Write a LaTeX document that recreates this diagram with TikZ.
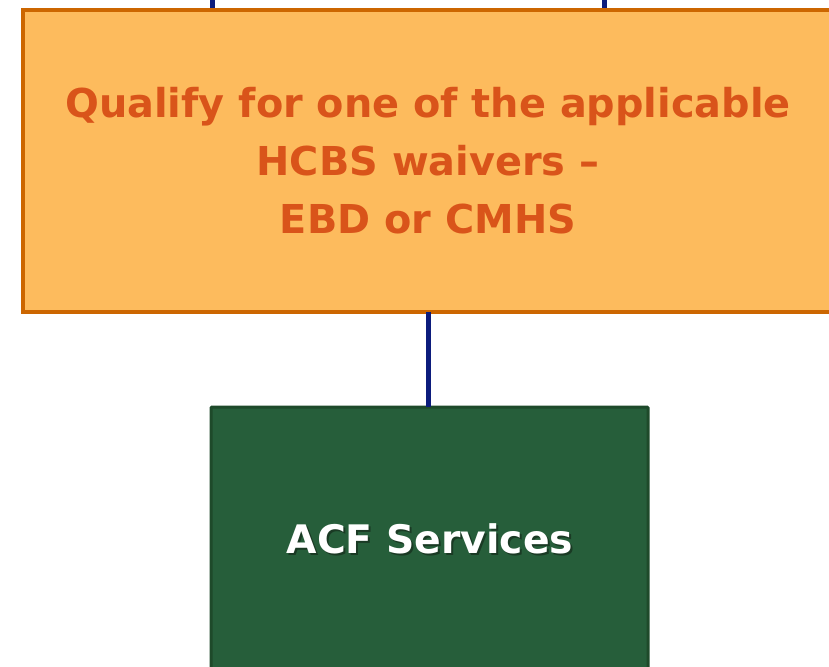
\documentclass[tikz,border=0pt]{standalone}
\usepackage{fontspec}
\setmainfont{DejaVu Sans}
\definecolor{orfill}{HTML}{FDBB5D}
\definecolor{ordraw}{HTML}{CC6600}
\definecolor{ortext}{HTML}{D9541A}
\definecolor{grfill}{HTML}{265E3A}
\definecolor{grdraw}{HTML}{1E4A2A}
\definecolor{navy}{HTML}{0C1C7C}
\definecolor{shad}{HTML}{1A3A24}
\newcommand{\shadtext}[1]{\rlap{\kern2pt\raisebox{-2pt}{\textcolor{shad}{#1}}}#1}
\tikzset{
  conn/.style={draw=navy, line width=5pt},
  orbox/.style={draw=ordraw, fill=orfill, line width=4pt},
  grbox/.style={draw=grdraw, fill=grfill, line width=3pt, rounded corners=1pt},
  ortxt/.style={text=ortext, font=\bfseries\fontsize{39.8}{58}\selectfont, align=center},
  grtxt/.style={text=white, font=\bfseries\fontsize{39.3}{44}\selectfont},
}
\begin{document}
\begin{tikzpicture}[x=1pt,y=-1pt]
\useasboundingbox (0,0) rectangle (829,666);
\coordinate (t1) at (212,-5);
\coordinate (t2) at (604,-5);
\draw[conn] (t1) -- (212,12);
\draw[conn] (t2) -- (604,12);
\path[orbox] (23,10) rectangle (840,312);
\coordinate (obot) at (428,312);
\node[ortxt] (otext) at (428,161) {Qualify for one of the applicable\\HCBS waivers –\\EBD or CMHS};
\path[grbox] (211,407) rectangle (648,690);
\coordinate (gtop) at (428,407);
\draw[conn] (obot) -- (gtop);
\node[grtxt] (gtext) at (430,540) {\shadtext{ACF Services}};
\end{tikzpicture}
\end{document}
